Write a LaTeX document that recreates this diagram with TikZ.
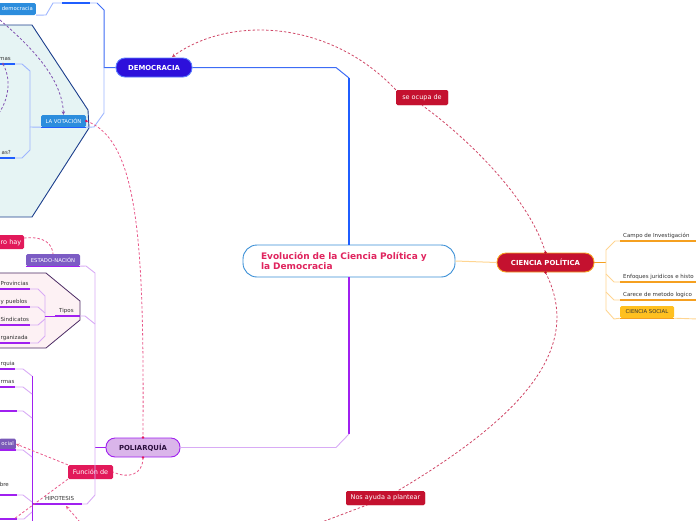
\documentclass[tikz,border=0pt]{standalone}
\usepackage{fontspec}
\setmainfont{DejaVu Sans}
\usetikzlibrary{arrows.meta}
\definecolor{bluemain}{HTML}{1F5EFF}
\definecolor{bluemid}{HTML}{3D6CF5}
\definecolor{bluelight}{HTML}{9DB5FF}
\definecolor{demfill}{HTML}{2D10DB}
\definecolor{demborder}{HTML}{5B7CFF}
\definecolor{smallblue}{HTML}{2C8DDD}
\definecolor{hexfill}{HTML}{E6F4F4}
\definecolor{hexborder}{HTML}{1B3E8C}
\definecolor{purplemain}{HTML}{A020F0}
\definecolor{purplelight}{HTML}{D8ABF5}
\definecolor{polifill}{HTML}{DAB5EA}
\definecolor{politext}{HTML}{2B0F3D}
\definecolor{pinkbox}{HTML}{E2195A}
\definecolor{pinkdash}{HTML}{E8588A}
\definecolor{crimson}{HTML}{C4112F}
\definecolor{reddash}{HTML}{D04868}
\definecolor{orangemain}{HTML}{F5A020}
\definecolor{orangelight}{HTML}{FFD591}
\definecolor{socialfill}{HTML}{FFC020}
\definecolor{estfill}{HTML}{7C5CC4}
\definecolor{tipfill}{HTML}{FDF1F4}
\definecolor{tipborder}{HTML}{4B2A63}
\definecolor{ocialfill}{HTML}{7A5AB8}
\definecolor{purpdash}{HTML}{8050B0}
\definecolor{centerborder}{HTML}{3A8FD6}
\definecolor{centertext}{HTML}{E0245E}
\definecolor{itemtext}{HTML}{333333}
\begin{document}
\begin{tikzpicture}[x=1pt,y=-1pt,
  centerbox/.style={draw=centerborder,line width=0.9pt,fill=white,rounded corners=14pt,
    minimum width=212pt,minimum height=32pt,text width=176pt,inner xsep=18pt,align=left,
    font=\fontsize{9}{10}\selectfont\bfseries,text=centertext},
  mainbox/.style={rounded corners=9pt,minimum height=19pt,inner sep=0pt,line width=0.9pt,
    font=\fontsize{6.9}{7}\selectfont\bfseries},
  labelbox/.style={fill=crimson,text=white,rounded corners=1.5pt,inner sep=0pt,
    minimum height=14pt,font=\fontsize{6.5}{7}\selectfont},
  tagbox/.style={rounded corners=1.5pt,inner xsep=3pt,inner ysep=0pt,minimum height=12pt,
    font=\fontsize{5.3}{6}\selectfont,text=white},
  item/.style={inner sep=0pt,font=\fontsize{5.5}{6}\selectfont,text=itemtext},
  thickblue/.style={draw=bluemain,line width=2.2pt},
  midblue/.style={draw=bluemid,line width=1pt},
  lightblue/.style={draw=bluelight,line width=0.9pt},
  ulblue/.style={draw=bluemain,line width=1.4pt},
  thickpurple/.style={draw=purplemain,line width=2.2pt},
  midpurple/.style={draw=purplemain,line width=1pt},
  lightpurple/.style={draw=purplelight,line width=0.9pt},
  ulpurple/.style={draw=purplemain,line width=1.4pt},
  orangeline/.style={draw=orangemain,line width=1pt},
  lightorange/.style={draw=orangelight,line width=0.9pt},
  ulorange/.style={draw=orangemain,line width=1.3pt},
  reddashed/.style={draw=reddash,dashed,dash pattern=on 2.5pt off 2pt,line width=0.8pt},
  pinkdashed/.style={draw=pinkdash,dashed,dash pattern=on 2.5pt off 2pt,line width=0.8pt},
  purpdashed/.style={draw=purpdash,dashed,dash pattern=on 2.5pt off 2pt,line width=0.8pt},
  tip/.style={-{Stealth[length=3.5pt,width=3.5pt]}}
]
\useasboundingbox (0,0) rectangle (696,520);
\clip (0,0) rectangle (696,520);

% ---------- big hexagon (democracia branch) ----------
\filldraw[fill=hexfill,draw=hexborder,line width=0.9pt]
  (-2,25) -- (32,25) -- (88,110) -- (89,128) -- (32,217) -- (-2,217);

% ---------- Tipos hexagon ----------
\filldraw[fill=tipfill,draw=tipborder,line width=0.8pt]
  (-2,273) -- (46,273) -- (80,301) -- (80,320) -- (46,348) -- (-2,348);

% ---------- nodes ----------
\node[centerbox] (c) at (349,261) {Evolución de la Ciencia Política y\\la Democracia};
\node[mainbox,fill=demfill,draw=demborder,text=white,minimum width=76pt] (dem) at (154,67.5) {DEMOCRACIA};
\node[mainbox,fill=polifill,draw=purplemain,text=politext,minimum width=74pt] (poli) at (143,447.5) {POLIARQUÍA};
\node[mainbox,fill=crimson,draw=orangemain,text=white,minimum width=97pt] (cp) at (545.5,262.5) {CIENCIA POLÍTICA};

\node[labelbox,minimum width=52pt,minimum height=15pt] (seo) at (422,97.5) {se ocupa de};
\node[labelbox,minimum width=79pt] (nos) at (385.5,498) {Nos ayuda a plantear};
\node[labelbox,fill=pinkbox,minimum width=45pt] (fun) at (90.5,472) {Función de};
\fill[pinkbox,rounded corners=1.5pt] (-4,235) rectangle (24,249);
\node[inner sep=0pt,anchor=base west,text=white,font=\fontsize{6.5}{7}\selectfont] (roh) at (0.5,244.3) {ro hay};
\coordinate (rohe) at (24,238);

\node[tagbox,fill=smallblue,anchor=east] (demo) at (36,9) {democracia};
\node[tagbox,fill=smallblue,minimum width=45pt,inner xsep=0pt] (vot) at (63.5,121) {LA VOTACIÓN};
\node[tagbox,fill=estfill,minimum width=54pt,inner xsep=0pt] (est) at (53,260) {ESTADO-NACIÓN};
\node[tagbox,fill=socialfill,text=itemtext,minimum width=54pt,inner xsep=0pt] (soc) at (647,312) {CIENCIA SOCIAL};
\node[tagbox,fill=ocialfill,anchor=east,inner xsep=2pt,minimum height=11pt] (ocial) at (16,444) {ocial};

% text items
\node[item,anchor=base west] (campo) at (623,237.5) {Campo de Investigación};
\node[item,anchor=base west] (enf) at (623,278.5) {Enfoques juridicos e histo};
\node[item,anchor=base west] (car) at (623,296.5) {Carece de metodo logico};
\node[item,anchor=base west] (tip) at (59,312.5) {Tipos};
\node[item,anchor=base west] (prov) at (0.5,285.5) {Provincias};
\node[item,anchor=base west] (pue) at (0.5,303.5) {y pueblos};
\node[item,anchor=base west] (sin) at (0.5,321.5) {Sindicatos};
\node[item,anchor=base west] (org) at (0.5,339.5) {rganizada};
\node[item,anchor=base east] (mas) at (11,60.5) {mas};
\node[item,anchor=base east] (masq) at (11,154.5) {as?};
\node[item,anchor=base west] (rq) at (0.5,365) {rquia};
\node[item,anchor=base west] (rm) at (0.5,383) {rmas};
\node[item,anchor=base east] (bre) at (9,486) {bre};
\node[item,anchor=base west] (hip) at (45,500) {HIPOTESIS};

% ---------- central connectors ----------
\draw[thickblue] (c.north) -- (349,78);
\draw[midblue] (349,78) -- (336,67.5) -- (dem.east);
\draw[thickpurple] (c.south) -- (349,434);
\draw[lightpurple] (349,434) -- (336,447.5) -- (poli.east);
\draw[draw=orangelight,line width=1pt] (c.east) -- (cp.west);

% ---------- democracia tree ----------
\draw[midblue] (dem.west) -- (104,67.5) -- (104,10) -- (97,3);
\draw[lightblue] (104,67.5) -- (104,113) -- (94,127) -- (vot.south east);
\draw[lightblue] (97,3) -- (53,3) -- (46,15) -- (demo.south east);
\draw[ulblue] (62,3) -- (90,3);
\draw[ulblue] (vot.south west) -- (vot.south east);
\draw[lightblue] (vot.south west) -- (30,127);
\draw[lightblue] (0,64) -- (22,64) -- (30,71) -- (30,150) -- (22,158) -- (0,158);
\draw[ulblue] (-2,64) -- (15,64);
\draw[ulblue] (-2,158) -- (15,158);

% ---------- cp tree ----------
\draw[orangeline] (cp.east) -- (606,262.5);
\draw[lightorange] (606,262.5) -- (606,250) -- (615,241) -- (620,241);
\draw[lightorange] (606,262.5) -- (606,310) -- (614,319) -- (soc.south west);
\draw[lightorange] (606,274) -- (614,282) -- (620,282);
\draw[lightorange] (606,292) -- (614,300) -- (620,300);
\draw[ulorange] (620,241) -- (698,241);
\draw[ulorange] (620,282) -- (698,282);
\draw[ulorange] (620,300) -- (698,300);
\draw[lightorange] (soc.south east) -- (698,319);
\draw[ulorange] (soc.south west) -- (soc.south east);

% ---------- poliarquia tree ----------
\draw[ulpurple] (poli.west) -- (95,447.5);
\draw[lightpurple] (est.south east) -- (86,266) -- (95,273) -- (95,495) -- (87,504) -- (82,504);
\draw[ulpurple] (est.south west) -- (est.south east);
\draw[ulpurple] (55,316) -- (80,316);
\draw[lightpurple] (80,316) -- (85,316) -- (95,324);
\draw[ulpurple] (32,504) -- (82,504);
% tipos children
\draw[lightpurple] (30,289) -- (38,289) -- (45,296) -- (45,336) -- (38,343) -- (30,343);
\draw[lightpurple] (30,307) -- (38,307) -- (45,313);
\draw[lightpurple] (30,325) -- (38,325) -- (45,319);
\draw[draw=purplemain,line width=1pt] (45,316) -- (55,316);
\foreach \yy in {289,307,325,343} { \draw[ulpurple] (-2,\yy) -- (30,\yy); }
% hipotesis children
\draw[midpurple] (32,376) -- (32,522);
\foreach \yy/\xx in {369/15,387/15,411/17,450/16,495/17} {
  \draw[ulpurple] (-2,\yy) -- (\xx,\yy);
  \draw[lightpurple] (\xx,\yy) -- (23,\yy) -- (32,\yy+7);
}
\draw[ulpurple] (-2,519) -- (17,519);
\draw[lightpurple] (17,519) -- (24,519) -- (32,512);

% ---------- dashed relations ----------
\draw[purpdashed,tip] (0,20) .. controls (35,50) and (62,80) .. (vot.north);
\fill[purpdash] (3,64) circle (1.3pt);
\draw[purpdashed] (3,64) .. controls (12,80) and (8,100) .. (-1,113);

\draw[pinkdashed] (vot.east) .. controls (140,140) and (144,250) .. (poli.north);
\fill[pinkbox] (vot.east) circle (1.4pt);
\fill[pinkbox] (poli.north) circle (1.4pt);

\draw[pinkdashed] (rohe) .. controls (45,236) and (52,244) .. (est.north);

\draw[pinkdashed] (poli.south) .. controls (143,475) and (128,479) .. (fun.east);
\fill[pinkbox] (poli.south) circle (1.4pt);
\draw[pinkdashed,tip] (fun.north west) -- (ocial.east);
\draw[pinkdashed] (fun.south west) -- (14,519);
\coordinate (hipend) at (80,522);
\draw[pinkdashed,tip] (hipend) -- (66,506);

\draw[reddashed] (cp.north) .. controls (530,200) and (470,140) .. (seo.south);
\draw[reddashed,tip] (seo.north west) .. controls (330,20) and (230,15) .. (172,57);
\fill[crimson] (cp.north) circle (1.4pt);

\coordinate (nosend) at (322,522);
\draw[reddashed] (cp.south) .. controls (585,350) and (520,420) .. (nos.center) -- (nosend);
\fill[crimson] (cp.south) circle (1.4pt);

% redraw labels over dashes
\node[labelbox,minimum width=52pt,minimum height=15pt] at (seo) {se ocupa de};
\node[labelbox,minimum width=79pt] at (nos) {Nos ayuda a plantear};
\end{tikzpicture}
\end{document}
